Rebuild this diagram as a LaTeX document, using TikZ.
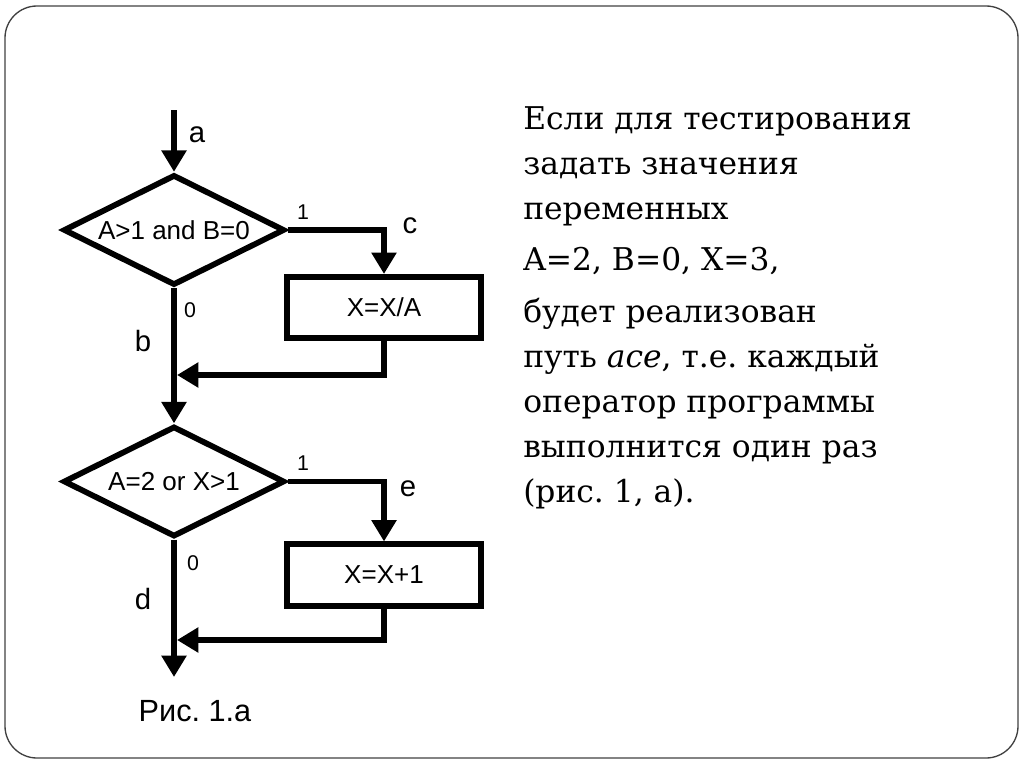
\documentclass[tikz,border=0pt]{standalone}
\usepackage{fontspec}
\setmainfont{DejaVu Serif}
\newfontfamily\flowfont{Liberation Sans}
\usepackage{tikz}
\usetikzlibrary{shapes.geometric, arrows.meta, positioning}
\frenchspacing
\tikzstyle{decision} = [diamond, aspect=2, draw=black, line width=4.3pt, minimum width=166pt, minimum height=83pt, inner sep=0pt, font=\flowfont\fontsize{19.5pt}{22pt}\selectfont]
\tikzstyle{process} = [rectangle, draw=black, line width=4.3pt, minimum width=145pt, minimum height=46pt, inner sep=0pt, font=\flowfont\fontsize{19.5pt}{22pt}\selectfont]
\tikzstyle{arrow} = [line width=4.3pt, -{Triangle[width=18pt,length=16pt]}]
\tikzstyle{pathlbl} = [inner sep=0pt, font=\flowfont\fontsize{22pt}{24pt}\selectfont]
\tikzstyle{numlbl} = [inner sep=0pt, font=\flowfont\fontsize{16pt}{18pt}\selectfont]
\tikzstyle{frame} = [draw=black!75, line width=1pt, rounded corners=24pt]

\begin{document}
\begin{tikzpicture}[x=0.75pt, y=-0.75pt, >=Stealth]
    \useasboundingbox (0,0) rectangle (1024,767);
    \draw [frame] (5,6) rectangle (1018,758);

    % Blocks
    \node (cond1) [decision] at (174,230) {A>1 and B=0};
    \node (op1) [process] at (384,307.5) {X=X/A};
    \node (cond2) [decision] at (174,481.5) {A=2 or X>1};
    \node (op2) [process] at (384,575) {X=X+1};

    % Free ends and joins
    \coordinate (start) at (174,110);
    \coordinate (join1) at (177,375);
    \coordinate (join2) at (177,640);
    \coordinate (stop) at (174,677);

    % Connectors
    \draw [arrow] (start) -- (cond1.north);
    \draw [arrow] (cond1.east) -| (op1.north);
    \draw [arrow] (op1.south) |- (join1);
    \draw [arrow] (cond1.south) -- (cond2.north);
    \draw [arrow] (cond2.east) -| (op2.north);
    \draw [arrow] (op2.south) |- (join2);
    \draw [arrow] (cond2.south) -- (stop);

    % Path labels
    \node (la) [pathlbl] at (197,135) {a};
    \node (lb) [pathlbl] at (143,341) {b};
    \node (lc) [pathlbl] at (410,226) {c};
    \node (ld) [pathlbl] at (143,599) {d};
    \node (le) [pathlbl] at (408,489) {e};
    \node (one1) [numlbl] at (303,212) {1};
    \node (zero1) [numlbl] at (190,310) {0};
    \node (one2) [numlbl] at (303,463) {1};
    \node (zero2) [numlbl] at (193,563) {0};

    % Caption
    \node (cap) [inner sep=0pt, font=\flowfont\fontsize{23pt}{26pt}\selectfont] at (195,711) {Рис. 1.а};

    % Explanation
    \node (txt) [anchor=north west, inner sep=0pt, align=left, font=\fontsize{23.5pt}{33.75pt}\selectfont] at (523,106)
        {Если для тестирования\\
         задать значения\\
         переменных\\[5pt]
         A=2, B=0, X=3,\\[5pt]
         будет реализован\\
         путь \textit{ace}, т.е. каждый\\
         оператор программы\\
         выполнится один раз\\
         (рис. 1, а).};
\end{tikzpicture}
\end{document}
